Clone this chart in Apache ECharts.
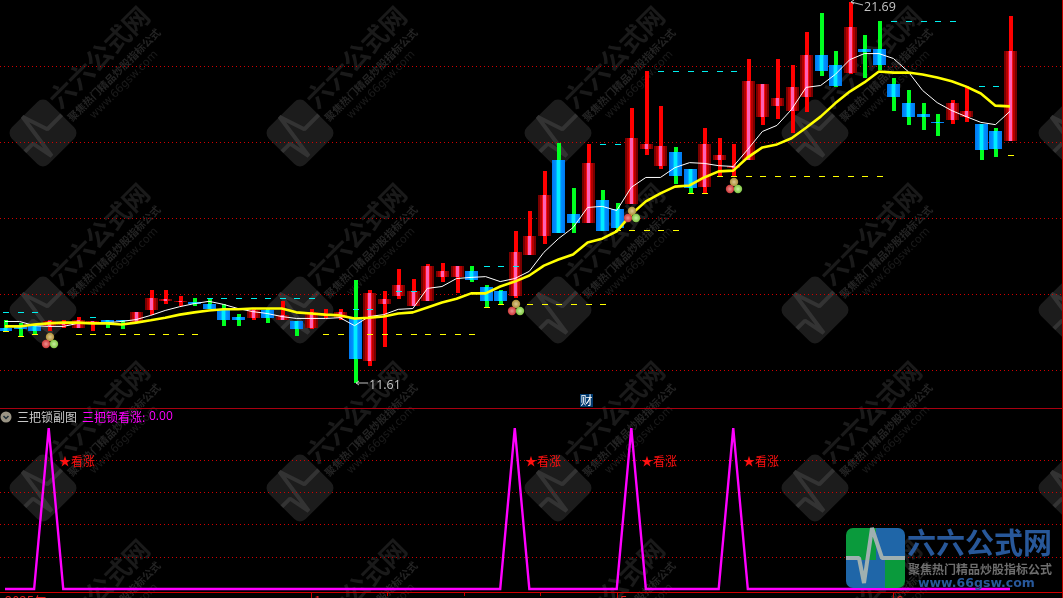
<!DOCTYPE html>
<html>
<head>
<meta charset="utf-8">
<style>html,body{margin:0;padding:0;background:#000;overflow:hidden}#c{width:1063px;height:598px}</style>
<script src="https://cdn.jsdelivr.net/npm/echarts@6/dist/echarts.min.js"></script>
</head>
<body>
<div id="c"></div>
<script>
const opens = [13.11,13.21,13.18,13.16,13.21,13.13,13.24,13.32,13.34,13.26,13.58,13.82,13.79,13.79,13.74,13.58,13.42,13.39,13.58,13.34,13.29,13.11,13.45,13.39,13.39,12.26,13.76,13.97,13.71,13.84,14.47,14.47,14.61,14.21,14.10,13.97,15.05,15.55,17.55,16.13,15.89,16.50,16.24,16.39,17.84,17.39,17.76,17.29,16.82,17.53,17.32,17.55,18.68,18.95,18.82,19.21,20.29,20.05,19.82,20.47,20.47,19.53,19.05,18.76,18.55,18.58,18.66,18.50,18.29,18.05];
const closes = [13.03,13.08,13.05,13.29,13.26,13.32,13.29,13.26,13.29,13.53,13.92,13.89,13.82,13.74,13.63,13.34,13.34,13.58,13.39,13.47,13.08,13.55,13.47,13.53,12.29,14.03,13.89,14.26,14.10,14.76,14.63,14.76,14.37,13.84,13.84,15.13,15.55,16.61,15.61,15.89,17.47,15.68,15.74,18.11,17.97,17.92,17.13,16.79,17.97,17.66,17.39,19.63,19.53,19.16,19.45,20.29,19.89,19.50,21.05,20.39,20.03,19.21,18.66,18.66,18.53,19.03,18.84,17.79,17.82,20.42];
const lows = [13.03,12.92,12.95,13.03,13.13,13.13,13.05,13.13,13.08,13.26,13.47,13.74,13.71,13.71,13.61,13.16,13.18,13.32,13.24,13.32,12.92,13.08,13.37,13.32,11.66,12.11,12.63,13.87,13.71,13.84,14.32,14.03,14.34,13.68,13.76,13.92,15.05,15.32,15.61,15.63,15.89,15.68,15.71,16.39,17.66,17.29,16.92,16.66,16.68,17.11,17.13,17.55,18.45,18.63,18.24,18.79,19.76,19.47,19.79,19.71,19.92,18.82,18.47,18.32,18.18,18.50,18.53,17.55,17.63,18.05];
const highs = [13.32,13.24,13.21,13.32,13.32,13.42,13.29,13.34,13.34,13.53,14.13,14.13,13.95,13.92,13.87,13.74,13.50,13.63,13.61,13.84,13.29,13.61,13.63,13.61,14.37,14.13,14.08,14.68,14.42,14.79,14.82,14.76,14.76,14.26,14.13,15.68,16.21,17.24,18.00,16.79,17.97,16.74,16.42,18.90,19.87,18.95,17.89,17.29,18.37,18.13,17.97,20.21,19.53,20.21,20.03,20.92,21.42,20.42,21.70,20.82,21.21,19.71,19.39,19.03,18.76,19.11,19.50,18.50,18.37,21.32];
const maFast = [13.29,13.29,13.18,13.16,13.16,13.24,13.24,13.26,13.29,13.34,13.45,13.58,13.68,13.76,13.82,13.74,13.63,13.55,13.50,13.42,13.37,13.37,13.37,13.39,13.18,13.42,13.47,13.61,13.63,14.16,14.21,14.42,14.45,14.47,14.34,14.42,14.61,15.11,15.47,15.76,16.29,16.32,16.21,16.82,17.08,17.08,17.34,17.47,17.45,17.39,17.37,17.82,18.29,18.45,18.87,19.45,19.50,19.79,20.18,20.34,20.34,20.21,19.87,19.37,19.05,18.84,18.68,18.53,18.47,18.82];
const maSlow = [13.16,13.16,13.21,13.24,13.26,13.26,13.24,13.24,13.21,13.26,13.32,13.39,13.47,13.53,13.58,13.61,13.61,13.63,13.63,13.63,13.53,13.50,13.47,13.45,13.37,13.39,13.42,13.50,13.53,13.66,13.79,13.89,14.03,14.03,14.21,14.34,14.50,14.76,14.92,15.05,15.37,15.47,15.66,16.11,16.45,16.66,16.84,16.87,17.08,17.24,17.26,17.61,17.87,17.95,18.11,18.39,18.68,19.03,19.34,19.58,19.87,19.84,19.84,19.79,19.71,19.61,19.47,19.29,18.97,18.95];
const cyanTicks = [[0,13.55],[1,13.55],[2,13.55],[6,13.42],[14,13.92],[15,13.92],[16,13.92],[17,13.92],[18,13.92],[19,13.92],[20,13.92],[21,13.92],[24,13.61],[25,13.61],[27,14.08],[28,14.08],[33,14.76],[34,14.76],[35,14.76],[41,17.97],[42,17.97],[45,19.87],[46,19.87],[47,19.87],[48,19.87],[49,19.87],[50,19.87],[61,21.21],[62,21.21],[63,21.21],[64,21.21],[65,21.21],[67,19.50],[68,19.50]];
const yellowTicks = [[0,13.03],[1,12.92],[2,12.95],[5,12.95],[6,12.95],[7,12.95],[8,12.95],[9,12.95],[10,12.95],[11,12.95],[12,12.95],[13,12.95],[22,12.95],[23,12.95],[25,12.95],[26,12.95],[27,12.95],[28,12.95],[29,12.95],[30,12.95],[31,12.95],[32,12.95],[33,13.68],[34,13.76],[36,13.76],[37,13.76],[38,13.76],[39,13.76],[40,13.76],[41,13.76],[42,15.71],[43,15.71],[44,15.71],[45,15.71],[46,15.71],[47,16.66],[48,16.66],[49,17.11],[50,17.11],[51,17.11],[52,17.11],[53,17.11],[54,17.11],[55,17.11],[56,17.11],[57,17.11],[58,17.11],[59,17.11],[60,17.11],[69,17.66]];
const signalPoints = [[3,12.87],[35,13.76],[43,16.21],[50,16.95]];
const signal = [0,0,0,1,0,0,0,0,0,0,0,0,0,0,0,0,0,0,0,0,0,0,0,0,0,0,0,0,0,0,0,0,0,0,0,1,0,0,0,0,0,0,0,1,0,0,0,0,0,0,1,0,0,0,0,0,0,0,0,0,0,0,0,0,0,0,0,0,0,0];
const extremes = [[58,21.71,'21.69',1],[24,11.66,'11.61',-1]];
const monthTicks = [[0,'2025年'],[21,'1'],[42,'5'],[61,'6']];
const minorTicks = [26.25,31.5,36.75];
const paneTitle = '三把锁副图';
const signalName = '三把锁看涨:';
const signalValue = '0.00';
const signalText = '★看涨';
const markerText = '财';
const brandName = '六六公式网';
const brandSlogan = '聚焦热门精品炒股指标公式';
const brandUrl = 'www.66gsw.com';

const CJK = '"Noto Sans CJK SC","Noto Sans",sans-serif';
const G = echarts.graphic;
const redBody = new G.LinearGradient(0,0,1,0,[
 {offset:0,color:'#7a0000'},{offset:.16,color:'#7a0000'},{offset:.16,color:'#b40000'},{offset:.3,color:'#b40000'},
 {offset:.3,color:'#f00000'},{offset:.4,color:'#ff2030'},{offset:.4,color:'#ff60b4'},{offset:.6,color:'#ff60b4'},
 {offset:.6,color:'#ff2030'},{offset:.7,color:'#f00000'},{offset:.7,color:'#b40000'},{offset:.84,color:'#b40000'},
 {offset:.84,color:'#7a0000'},{offset:1,color:'#7a0000'}]);
const blueBody = new G.LinearGradient(0,0,1,0,[
 {offset:0,color:'#0078f0'},{offset:.3,color:'#0090ff'},{offset:.3,color:'#00a8ff'},{offset:.42,color:'#00c8ff'},
 {offset:.42,color:'#00ecff'},{offset:.58,color:'#00ecff'},{offset:.58,color:'#00c8ff'},{offset:.7,color:'#00a8ff'},
 {offset:.7,color:'#0090ff'},{offset:1,color:'#0078f0'}]);

function renderCandle(params, api){
  const i = api.value(0), o = api.value(1), c = api.value(2);
  const up = c >= o;
  const cx = Math.round(api.coord([i,o])[0]);
  const yHi = Math.round(api.coord([i,api.value(4)])[1]);
  const yLo = Math.round(api.coord([i,api.value(3)])[1]);
  const yT = Math.round(api.coord([i,Math.max(o,c)])[1]);
  const yB = Math.round(api.coord([i,Math.min(o,c)])[1]);
  return {type:'group',children:[
    {type:'rect',shape:{x:cx-1,y:yHi,width:4,height:Math.max(1,yLo-yHi)},style:{fill:up?'#ff0000':'#00ff20'}},
    {type:'rect',shape:{x:cx-6,y:yT,width:13,height:Math.max(1,yB-yT)},style:{fill:up?redBody:blueBody}}
  ]};
}
function renderTick(color){
  return function(params, api){
    const p = api.coord([api.value(0),api.value(1)]);
    return {type:'rect',shape:{x:Math.round(p[0])-2,y:Math.round(p[1]),width:6,height:1},style:{fill:color}};
  };
}
function ball(x,y,c0,c1){
  return {type:'circle',shape:{cx:x,cy:y,r:4.2},style:{fill:new G.RadialGradient(.5,.5,.55,[{offset:0,color:c0},{offset:1,color:c1}])}};
}
function renderBalls(params, api){
  const p = api.coord([api.value(0),api.value(1)]);
  const x = Math.round(p[0]), y = Math.round(p[1]);
  return {type:'group',children:[
    ball(x+1,y,'#dcc890','#a88a30'),
    ball(x-3,y+7,'#f09090','#c83030'),
    ball(x+5,y+7,'#c8f0a0','#78c038')
  ]};
}
function renderExtreme(params, api){
  const e = extremes[params.dataIndex];
  const p = api.coord([e[0],e[1]]);
  const x = Math.round(p[0])+1, y = Math.round(p[1]);
  const d = e[3] > 0 ? 3 : 0;
  const lineStyle = {stroke:'#c0c0c0',fill:'none',lineWidth:1};
  return {type:'group',children:[
    {type:'polyline',shape:{points:[[x+3,y-2],[x,y],[x+3,y+2]]},style:lineStyle},
    {type:'line',shape:{x1:x,y1:y,x2:x+12,y2:y+d},style:lineStyle},
    {type:'text',x:x+13,y:e[3]>0?y+5:y+2,style:{text:e[2],fill:'#c4c4c4',font:'12.5px "Open Sans",sans-serif',textAlign:'left',textVerticalAlign:'middle',align:'left',verticalAlign:'middle'}}
  ]};
}
function renderSignalText(params, api){
  const p = api.coord([api.value(0),0.8]);
  return {type:'text',x:Math.round(p[0])+10,y:Math.round(p[1])+1,style:{text:signalText,fill:'#ff1010',font:'12px '+CJK,textAlign:'left',textVerticalAlign:'middle',align:'left',verticalAlign:'middle'}};
}
function renderMonth(params, api){
  const m = monthTicks[params.dataIndex];
  const p = api.coord([m[0],0]);
  const x = Math.round(p[0]);
  const kids = [{type:'text',x:m[0]===0?5:x+3,y:595,style:{text:m[1],fill:'#e02020',font:'13px '+CJK,textAlign:'left',textVerticalAlign:'top',align:'left',verticalAlign:'top'}}];
  if(m[0]!==0) kids.push({type:'rect',shape:{x:x,y:593,width:1,height:5},style:{fill:'#c80000'}});
  return {type:'group',children:kids};
}
function renderMinor(params, api){
  const x = Math.round(api.coord([api.value(0),0])[0]);
  return {type:'rect',shape:{x:x,y:593,width:1,height:3},style:{fill:'#c80000'}};
}

const idx = opens.map((_,i)=>i);
const candleRows = idx.map(i=>[i,opens[i],closes[i],lows[i],highs[i]]);
const dotted = {show:true,lineStyle:{color:'#d00000',width:1,type:[1,3]},showMinLine:false,showMaxLine:false};
const xBase = {type:'value',min:-0.3433,max:72.64,show:false,splitLine:{show:false}};

function pulse(s){return [[0,30],[13,30],[18,55],[26,0],[36,30],[59,30]].map(p=>[p[0]*s,p[1]*s]);}
const graphics = [];
const WM = {big:'#1a1a1a',sub:'#242424',www:'#1b1b1b',tile:'#1c1c1c',pulse:'#333333'};
[133,310,488,666].forEach(ry=>{
  [43,300,558,815,1072].forEach(cx=>{
    const rot = Math.PI/4, s = 52/59;
    graphics.push({type:'group',x:cx,y:ry,rotation:rot,silent:true,children:[
      {type:'rect',z:-10,shape:{x:-26,y:-26,width:52,height:52,r:8},style:{fill:WM.tile}},
      {type:'polyline',z:-9,x:-26,y:-26,shape:{points:pulse(s)},style:{stroke:WM.pulse,fill:'none',lineWidth:4,lineJoin:'bevel'}}
    ]});
    const tx = (t,dx,dy,font,fill)=>graphics.push({type:'text',z:-9,silent:true,x:cx+dx,y:ry+dy,rotation:rot,
      style:{text:t,fill:fill,font:font,textAlign:'center',textVerticalAlign:'middle',align:'center',verticalAlign:'middle'}});
    tx(brandName,56,-76,'bold 26px '+CJK,WM.big);
    tx(brandSlogan,71,-58,'bold 10.5px '+CJK,WM.sub);
    tx(brandUrl,81,-48,'11px "DejaVu Sans",sans-serif',WM.www);
  });
});
// frame lines
const frame = [[0,408,1063,1,'#a80010'],[0,592,1063,1,'#d00000'],[1062,0,1,598,'#c00000']];
frame.forEach(f=>graphics.push({type:'rect',z:1,silent:true,shape:{x:f[0],y:f[1],width:f[2],height:f[3]},style:{fill:f[4]}}));
// pane title
const txt=(t,x,y,font,fill,z)=>({type:'text',z:z||20,silent:true,x:x,y:y,style:{text:t,fill:fill,font:font,textAlign:'left',textVerticalAlign:'middle',align:'left',verticalAlign:'middle'}});
graphics.push({type:'circle',z:20,silent:true,shape:{cx:6,cy:417,r:5.5},style:{fill:'#9a9484'}});
graphics.push({type:'polyline',z:21,silent:true,shape:{points:[[3.5,416],[6,418.5],[8.5,416]]},style:{stroke:'#20303a',fill:'none',lineWidth:1.5}});
graphics.push(txt(paneTitle,17,417,'12px '+CJK,'#c8c8c8'));
graphics.push(txt(signalName,82,417,'12px '+CJK,'#ff00ff'));
graphics.push(txt(signalValue,149,417,'12px "Open Sans",sans-serif','#ff00ff'));
// marker box
graphics.push({type:'rect',z:20,silent:true,shape:{x:580,y:394,width:13,height:13},style:{fill:'#003a70'}});
graphics.push(txt(markerText,580.5,400.5,'12px '+CJK,'#ffffff',21));
// brand logo
[[846,528,30,32,[7,0,0,0],'#0a9a3c'],[876,528,29,32,[0,7,0,0],'#1f66a8'],[846,560,39,28,[0,0,0,7],'#1f66a8'],[885,560,20,28,[0,0,7,0],'#0a9a3c']].forEach(b=>{
  graphics.push({type:'rect',z:30,silent:true,shape:{x:b[0],y:b[1],width:b[2],height:b[3],r:b[4]},style:{fill:b[5]}});
});
graphics.push({type:'polyline',z:31,silent:true,x:846,y:528,shape:{points:pulse(1)},style:{stroke:'#9fb0b0',fill:'none',lineWidth:4,lineJoin:'bevel'}});
graphics.push(txt(brandName,907,543,'bold 29px '+CJK,'#28589a',31));
graphics.push(txt(brandSlogan,908,569,'bold 12px '+CJK,'#6e6e6e',31));
graphics.push(txt(brandUrl,918,584,'bold 12.5px "DejaVu Sans",sans-serif','#28589a',31));

const chart = echarts.init(document.getElementById('c'),null,{renderer:'canvas',width:1063,height:598});
chart.setOption({
  animation:false,
  backgroundColor:'#000',
  tooltip:{show:false},
  legend:{show:false},
  grid:[
    {left:0,top:0,width:1063,height:446.5,containLabel:false},
    {left:0,top:428,width:1063,height:161,containLabel:false}
  ],
  xAxis:[Object.assign({gridIndex:0},xBase),Object.assign({gridIndex:1},xBase)],
  yAxis:[
    {gridIndex:0,type:'value',min:10,max:21.75,interval:2,axisLine:{show:false},axisTick:{show:false},axisLabel:{show:false},splitLine:dotted},
    {gridIndex:1,type:'value',min:0,max:1,interval:0.2,axisLine:{show:false},axisTick:{show:false},axisLabel:{show:false},splitLine:dotted}
  ],
  graphic:{elements:graphics},
  series:[
    {type:'custom',name:'K',coordinateSystem:'cartesian2d',xAxisIndex:0,yAxisIndex:0,z:2,clip:false,data:candleRows,encode:{x:0,y:[1,2,3,4]},renderItem:renderCandle,silent:true},
    {type:'line',name:'MA1',xAxisIndex:0,yAxisIndex:0,z:3,data:idx.map(i=>[i,maFast[i]]),showSymbol:false,symbol:'none',lineStyle:{color:'#ffffff',width:1},silent:true},
    {type:'line',name:'MA2',xAxisIndex:0,yAxisIndex:0,z:4,data:idx.map(i=>[i,maSlow[i]]),showSymbol:false,symbol:'none',lineStyle:{color:'#ffff00',width:2.6},silent:true},
    {type:'custom',name:'cyan',xAxisIndex:0,yAxisIndex:0,z:5,data:cyanTicks,encode:{x:0,y:1},renderItem:renderTick('#00f0f0'),silent:true},
    {type:'custom',name:'yellow',xAxisIndex:0,yAxisIndex:0,z:5,data:yellowTicks,encode:{x:0,y:1},renderItem:renderTick('#ffff00'),silent:true},
    {type:'custom',name:'balls',xAxisIndex:0,yAxisIndex:0,z:6,data:signalPoints,encode:{x:0,y:1},renderItem:renderBalls,silent:true},
    {type:'custom',name:'ext',xAxisIndex:0,yAxisIndex:0,z:7,clip:false,data:extremes.map(e=>[e[0],e[1]]),encode:{x:0,y:1},renderItem:renderExtreme,silent:true},
    {type:'line',name:'signal',xAxisIndex:1,yAxisIndex:1,z:3,data:idx.map(i=>[i,signal[i]]),showSymbol:false,symbol:'none',lineStyle:{color:'#ff00ff',width:2.4,join:'miter'},clip:false,silent:true},
    {type:'custom',name:'sigtext',xAxisIndex:1,yAxisIndex:1,z:4,clip:false,data:signalPoints.map(p=>[p[0],0.8]),encode:{x:0,y:1},renderItem:renderSignalText,silent:true},
    {type:'custom',name:'month',xAxisIndex:1,yAxisIndex:1,z:4,clip:false,data:monthTicks.map(m=>[m[0],0]),encode:{x:0,y:1},renderItem:renderMonth,silent:true},
    {type:'custom',name:'minor',xAxisIndex:1,yAxisIndex:1,z:4,clip:false,data:minorTicks.map(m=>[m,0]),encode:{x:0,y:1},renderItem:renderMinor,silent:true}
  ]
});
</script>
</body>
</html>
